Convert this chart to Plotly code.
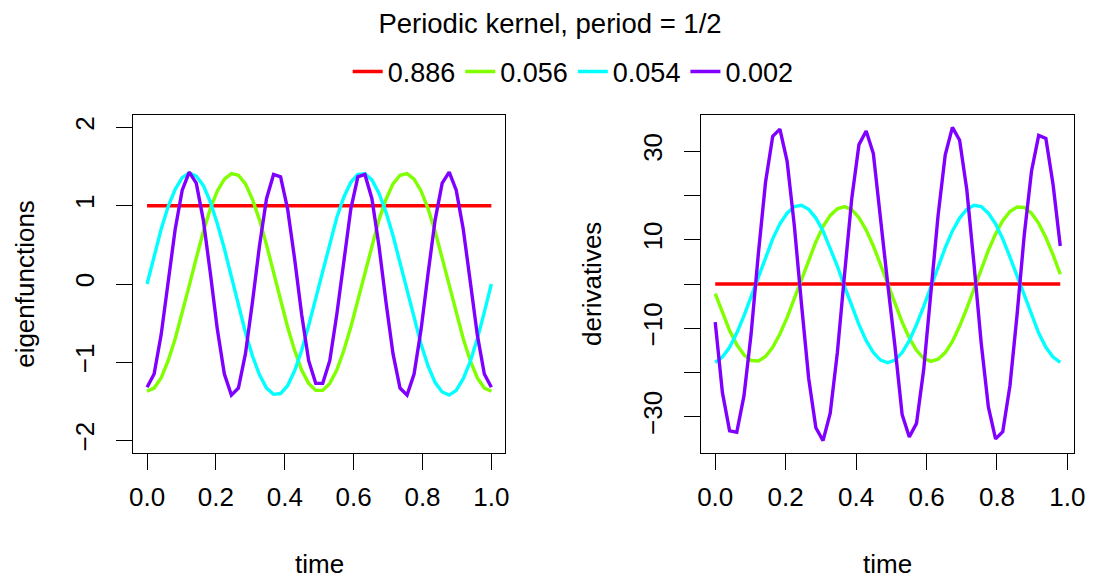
import numpy as np
import plotly.graph_objects as go

# ---------------- data ----------------
time = np.linspace(0, 1, 50)          # sampling grid of the eigenfunctions
time_deriv = time[:-1]                # grid of the derivatives (0 ... 0.98)

eigenvalues = ["0.886", "0.056", "0.054", "0.002"]
colors = ["#FF0000", "#80FF00", "#00FFFF", "#8000FF"]

# eigenfunctions (left panel)
ef_red = [1.00, 1.00, 1.00, 1.00, 1.00, 1.00, 1.00, 1.00, 1.00, 1.00,
          1.00, 1.00, 1.00, 1.00, 1.00, 1.00, 1.00, 1.00, 1.00, 1.00,
          1.00, 1.00, 1.00, 1.00, 1.00, 1.00, 1.00, 1.00, 1.00, 1.00,
          1.00, 1.00, 1.00, 1.00, 1.00, 1.00, 1.00, 1.00, 1.00, 1.00,
          1.00, 1.00, 1.00, 1.00, 1.00, 1.00, 1.00, 1.00, 1.00, 1.00]
ef_green = [-1.37, -1.33, -1.20, -0.98, -0.70, -0.38, -0.02, 0.33, 0.67, 0.96,
            1.19, 1.34, 1.41, 1.39, 1.28, 1.08, 0.82, 0.50, 0.15, -0.20,
            -0.55, -0.85, -1.10, -1.27, -1.36, -1.36, -1.27, -1.10, -0.85, -0.55,
            -0.20, 0.15, 0.50, 0.82, 1.08, 1.28, 1.39, 1.41, 1.34, 1.19,
            0.96, 0.67, 0.33, -0.02, -0.38, -0.70, -0.98, -1.20, -1.33, -1.37]
ef_cyan = [0.00, 0.36, 0.70, 0.99, 1.21, 1.36, 1.42, 1.38, 1.26, 1.05,
           0.77, 0.45, 0.09, -0.27, -0.62, -0.92, -1.16, -1.33, -1.41, -1.40,
           -1.30, -1.11, -0.85, -0.53, -0.18, 0.18, 0.53, 0.85, 1.11, 1.30,
           1.40, 1.41, 1.33, 1.16, 0.92, 0.62, 0.27, -0.09, -0.45, -0.77,
           -1.05, -1.26, -1.38, -1.42, -1.36, -1.21, -0.99, -0.70, -0.36, 0.00]
ef_purple = [-1.32, -1.15, -0.65, 0.03, 0.70, 1.20, 1.43, 1.29, 0.82, 0.14,
             -0.58, -1.15, -1.42, -1.33, -0.89, -0.23, 0.49, 1.09, 1.40, 1.37,
             0.96, 0.32, -0.39, -0.98, -1.27, -1.27, -0.98, -0.39, 0.32, 0.96,
             1.37, 1.40, 1.09, 0.49, -0.23, -0.89, -1.33, -1.42, -1.15, -0.58,
             0.14, 0.82, 1.29, 1.43, 1.20, 0.70, 0.03, -0.65, -1.15, -1.32]

# derivatives (right panel)
dv_red = [0.0, 0.0, 0.0, 0.0, 0.0, 0.0, 0.0, 0.0, 0.0, 0.0,
          0.0, 0.0, 0.0, 0.0, 0.0, 0.0, 0.0, 0.0, 0.0, 0.0,
          0.0, 0.0, 0.0, 0.0, 0.0, 0.0, 0.0, 0.0, 0.0, 0.0,
          0.0, 0.0, 0.0, 0.0, 0.0, 0.0, 0.0, 0.0, 0.0, 0.0,
          0.0, 0.0, 0.0, 0.0, 0.0, 0.0, 0.0, 0.0, 0.0]
dv_green = [-2.2, -6.6, -10.5, -13.7, -16.0, -17.3, -17.4, -16.4, -14.3, -11.3,
            -7.6, -3.3, 1.1, 5.5, 9.5, 13.0, 15.5, 17.0, 17.5, 16.8,
            15.0, 12.2, 8.6, 4.4, 0.0, -4.4, -8.6, -12.2, -15.0, -16.8,
            -17.5, -17.0, -15.5, -13.0, -9.5, -5.5, -1.1, 3.3, 7.6, 11.3,
            14.3, 16.4, 17.4, 17.3, 16.0, 13.7, 10.5, 6.6, 2.2]
dv_cyan = [-17.7, -16.5, -14.3, -11.1, -7.2, -2.8, 1.7, 6.1, 10.2, 13.6,
           16.0, 17.5, 17.8, 16.9, 14.9, 12.0, 8.2, 4.0, -0.6, -5.1,
           -9.2, -12.8, -15.5, -17.2, -17.8, -17.2, -15.5, -12.8, -9.2, -5.1,
           -0.6, 4.0, 8.2, 12.0, 14.9, 16.9, 17.8, 17.5, 16.0, 13.6,
           10.2, 6.1, 1.7, -2.8, -7.2, -11.1, -14.3, -16.5, -17.7]
dv_purple = [-8.6, -24.5, -33.2, -33.5, -25.3, -11.2, 6.8, 23.0, 33.4, 35.0,
             27.8, 13.3, -4.5, -21.3, -32.5, -35.4, -29.2, -15.4, 2.3, 19.4,
             31.5, 34.6, 29.5, 14.0, 0.0, -14.0, -29.5, -34.6, -31.5, -19.4,
             -2.3, 15.4, 29.2, 35.4, 32.5, 21.3, 4.5, -13.3, -27.8, -35.0,
             -33.4, -23.0, -6.8, 11.2, 25.5, 33.6, 32.9, 22.5, 8.6]

x_ticks = [0.0, 0.2, 0.4, 0.6, 0.8, 1.0]
x_ticktext = ["0.0", "0.2", "0.4", "0.6", "0.8", "1.0"]
y1_ticks = [-2, -1, 0, 1, 2]
y1_ticktext = ["\u22122", "\u22121", "0", "1", "2"]
y2_ticks = [-30, -20, -10, 0, 10, 20, 30]
y2_ticktext = ["\u221230", "", "\u221210", "", "10", "", "30"]

# ---------------- figure ----------------
OFF = 8                      # default page margin around the plot div
W, H = 1100 - OFF, 578 - OFF
FONT = "Liberation Sans, Arial, Helvetica, sans-serif"
fig = go.Figure()

eigfuns = [ef_red, ef_green, ef_cyan, ef_purple]
derivs = [dv_red, dv_green, dv_cyan, dv_purple]

for name, col, ys in zip(eigenvalues, colors, eigfuns):
    fig.add_trace(go.Scatter(x=time, y=ys, mode="lines", name=name,
                             legendgroup=name,
                             line=dict(color=col, width=3.4),
                             xaxis="x", yaxis="y"))
for name, col, ys in zip(eigenvalues, colors, derivs):
    fig.add_trace(go.Scatter(x=time_deriv, y=ys, mode="lines", name=name,
                             legendgroup=name, showlegend=False,
                             line=dict(color=col, width=3.4),
                             xaxis="x2", yaxis="y2"))

# plot-region boxes in window pixels
L1, R1 = 131, 508
L2, R2 = 707, 1085
TOP, BOT = 115, 453


def px(x):
    return (x - OFF) / W


def py(y):
    return 1 - (y - OFF) / H


axis_common = dict(showline=True, linecolor="black", linewidth=1.2, mirror=True,
                   ticks="outside", ticklen=16, tickwidth=1.2, tickcolor="black",
                   showgrid=False, zeroline=False,
                   tickfont=dict(family=FONT, size=26, color="black"))

fig.update_layout(
    width=W, height=H,
    margin=dict(l=0, r=0, t=0, b=0),
    paper_bgcolor="white", plot_bgcolor="white",
    font=dict(family=FONT, color="black"),
    title=dict(text="Periodic kernel, period = 1/2", x=px(550), xanchor="center",
               y=py(23), yanchor="middle",
               font=dict(family=FONT, size=27.5, color="black")),
    showlegend=True,
    legend=dict(orientation="h", x=px(577), xanchor="center",
                y=py(72), yanchor="middle",
                font=dict(family=FONT, size=27, color="black"),
                bgcolor="rgba(0,0,0,0)", itemwidth=30,
                tracegroupgap=0),
    xaxis=dict(domain=[px(L1), px(R1)], range=[-0.04, 1.04], anchor="y",
               tickvals=x_ticks, ticktext=x_ticktext, ticklabelstandoff=5,
               **axis_common),
    yaxis=dict(domain=[py(BOT), py(TOP)], range=[-2.16, 2.16], anchor="x",
               tickvals=y1_ticks, ticktext=y1_ticktext, tickangle=-90,
               ticklabelstandoff=12, **axis_common),
    xaxis2=dict(domain=[px(L2), px(R2)], range=[-0.0392, 1.0192], anchor="y2",
                tickvals=x_ticks, ticktext=x_ticktext, ticklabelstandoff=5,
                **axis_common),
    yaxis2=dict(domain=[py(BOT), py(TOP)], range=[-38.2, 38.2], anchor="x2",
                tickvals=y2_ticks, ticktext=y2_ticktext, tickangle=-90,
                ticklabelstandoff=12, **axis_common),
)

ann_font = dict(family=FONT, size=26, color="black")
fig.add_annotation(text="time", x=px((L1 + R1) / 2), y=py(564), xref="paper", yref="paper",
                   showarrow=False, xanchor="center", yanchor="middle", font=ann_font)
fig.add_annotation(text="time", x=px((L2 + R2) / 2), y=py(564), xref="paper", yref="paper",
                   showarrow=False, xanchor="center", yanchor="middle", font=ann_font)
fig.add_annotation(text="eigenfunctions", x=px(21), y=py((TOP + BOT) / 2), xref="paper",
                   yref="paper", showarrow=False, textangle=-90,
                   xanchor="center", yanchor="middle", font=ann_font)
fig.add_annotation(text="derivatives", x=px(596), y=py((TOP + BOT) / 2), xref="paper",
                   yref="paper", showarrow=False, textangle=-90,
                   xanchor="center", yanchor="middle", font=ann_font)

fig.write_html("out.html")
